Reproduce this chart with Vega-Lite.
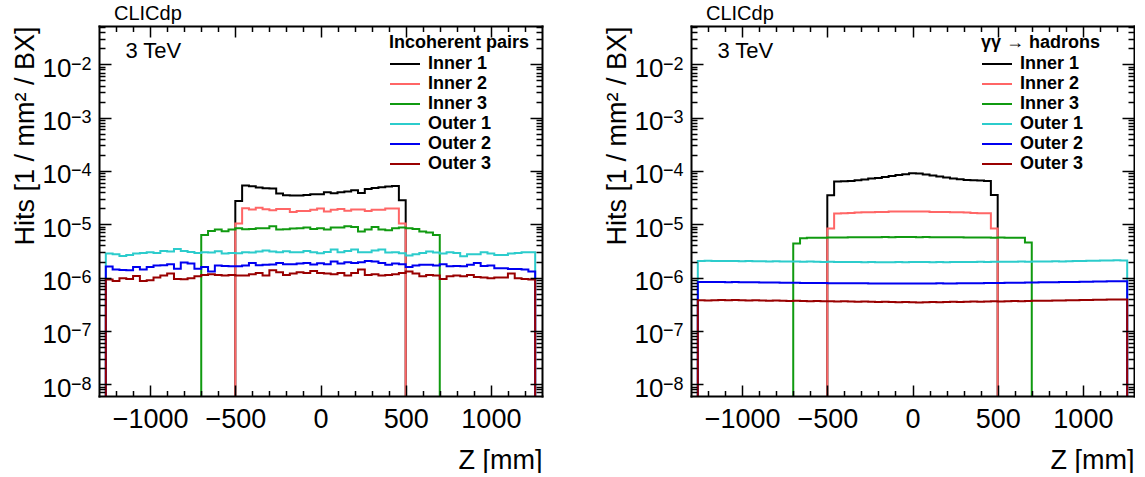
{
"$schema":"https://vega.github.io/schema/vega-lite/v6.json",
"background":"white",
"padding":{"left":10,"top":4,"right":0,"bottom":0},
"config":{"font":"Liberation Sans","view":{"stroke":null},
 "axis":{"labelColor":"black","titleColor":"black","tickColor":"black","domainColor":"black","labelFont":"Liberation Sans","titleFont":"Liberation Sans","grid":false},
 "legend":{"labelFont":"Liberation Sans","titleFont":"Liberation Sans"},
 "title":{"font":"Liberation Sans"}},
"spacing":149,
"bounds":"flush",
"resolve":{"scale":{"color":"independent","x":"independent","y":"independent"},"legend":{"color":"independent"},"axis":{"x":"independent","y":"independent"}},
"hconcat":[
{
"width":443,"height":370,
"title":{"text":"CLICdp","anchor":"start","frame":"group","dx":15,"fontSize":20,"fontWeight":"normal","baseline":"alphabetic","offset":-15,"color":"black"},
"layer":[
{
"data":{"values":[
{"z":-1280,"Inner 1":1e-10,"Inner 2":1e-10,"Inner 3":1e-10,"Outer 1":1e-10,"Outer 2":1e-10,"Outer 3":1e-10},
{"z":-1240,"Inner 1":1e-10,"Inner 2":1e-10,"Inner 3":1e-10,"Outer 1":2.82e-6,"Outer 2":1.61e-6,"Outer 3":9.17e-7},
{"z":-1200,"Inner 1":1e-10,"Inner 2":1e-10,"Inner 3":1e-10,"Outer 1":2.74e-6,"Outer 2":1.41e-6,"Outer 3":8.66e-7},
{"z":-1160,"Inner 1":1e-10,"Inner 2":1e-10,"Inner 3":1e-10,"Outer 1":2.55e-6,"Outer 2":1.39e-6,"Outer 3":9.72e-7},
{"z":-1120,"Inner 1":1e-10,"Inner 2":1e-10,"Inner 3":1e-10,"Outer 1":2.66e-6,"Outer 2":1.37e-6,"Outer 3":9.44e-7},
{"z":-1080,"Inner 1":1e-10,"Inner 2":1e-10,"Inner 3":1e-10,"Outer 1":2.82e-6,"Outer 2":1.58e-6,"Outer 3":1.075e-6},
{"z":-1040,"Inner 1":1e-10,"Inner 2":1e-10,"Inner 3":1e-10,"Outer 1":2.9e-6,"Outer 2":1.41e-6,"Outer 3":8.66e-7},
{"z":-1000,"Inner 1":1e-10,"Inner 2":1e-10,"Inner 3":1e-10,"Outer 1":2.99e-6,"Outer 2":1.58e-6,"Outer 3":8.91e-7},
{"z":-960,"Inner 1":1e-10,"Inner 2":1e-10,"Inner 3":1e-10,"Outer 1":2.9e-6,"Outer 2":1.68e-6,"Outer 3":1e-6},
{"z":-920,"Inner 1":1e-10,"Inner 2":1e-10,"Inner 3":1e-10,"Outer 1":3.16e-6,"Outer 2":1.7e-6,"Outer 3":1.09e-6},
{"z":-880,"Inner 1":1e-10,"Inner 2":1e-10,"Inner 3":1e-10,"Outer 1":3.07e-6,"Outer 2":1.78e-6,"Outer 3":1.189e-6},
{"z":-840,"Inner 1":1e-10,"Inner 2":1e-10,"Inner 3":1e-10,"Outer 1":3.45e-6,"Outer 2":1.47e-6,"Outer 3":9.44e-7},
{"z":-800,"Inner 1":1e-10,"Inner 2":1e-10,"Inner 3":1e-10,"Outer 1":3.16e-6,"Outer 2":1.91e-6,"Outer 3":9.31e-7},
{"z":-760,"Inner 1":1e-10,"Inner 2":1e-10,"Inner 3":1e-10,"Outer 1":3.03e-6,"Outer 2":1.83e-6,"Outer 3":9.72e-7},
{"z":-720,"Inner 1":1e-10,"Inner 2":1e-10,"Inner 3":1e-10,"Outer 1":2.9e-6,"Outer 2":1.47e-6,"Outer 3":1.059e-6},
{"z":-680,"Inner 1":1e-10,"Inner 2":1e-10,"Inner 3":6.31e-6,"Outer 1":2.99e-6,"Outer 2":1.58e-6,"Outer 3":1.122e-6},
{"z":-640,"Inner 1":1e-10,"Inner 2":1e-10,"Inner 3":7.5e-6,"Outer 1":2.94e-6,"Outer 2":1.3e-6,"Outer 3":1.155e-6},
{"z":-600,"Inner 1":1e-10,"Inner 2":1e-10,"Inner 3":7.94e-6,"Outer 1":3.12e-6,"Outer 2":1.68e-6,"Outer 3":1.122e-6},
{"z":-560,"Inner 1":1e-10,"Inner 2":1e-10,"Inner 3":7.39e-6,"Outer 1":2.82e-6,"Outer 2":1.65e-6,"Outer 3":1.09e-6},
{"z":-520,"Inner 1":1e-10,"Inner 2":1e-10,"Inner 3":7.94e-6,"Outer 1":2.9e-6,"Outer 2":1.63e-6,"Outer 3":1.122e-6},
{"z":-480,"Inner 1":2.74e-5,"Inner 2":1.03e-5,"Inner 3":8.41e-6,"Outer 1":2.86e-6,"Outer 2":1.63e-6,"Outer 3":1.09e-6},
{"z":-440,"Inner 1":5.31e-5,"Inner 2":2e-5,"Inner 3":8.06e-6,"Outer 1":2.99e-6,"Outer 2":1.68e-6,"Outer 3":1.09e-6},
{"z":-400,"Inner 1":5.16e-5,"Inner 2":1.88e-5,"Inner 3":8.18e-6,"Outer 1":2.94e-6,"Outer 2":1.88e-6,"Outer 3":1.155e-6},
{"z":-360,"Inner 1":4.87e-5,"Inner 2":2.03e-5,"Inner 3":8.41e-6,"Outer 1":3.07e-6,"Outer 2":1.7e-6,"Outer 3":1.223e-6},
{"z":-320,"Inner 1":4.73e-5,"Inner 2":1.91e-5,"Inner 3":8.41e-6,"Outer 1":3.21e-6,"Outer 2":1.73e-6,"Outer 3":1.09e-6},
{"z":-280,"Inner 1":4.66e-5,"Inner 2":1.83e-5,"Inner 3":9.17e-6,"Outer 1":3.07e-6,"Outer 2":1.75e-6,"Outer 3":1.372e-6},
{"z":-240,"Inner 1":3.76e-5,"Inner 2":1.94e-5,"Inner 3":7.94e-6,"Outer 1":2.99e-6,"Outer 2":1.88e-6,"Outer 3":1.259e-6},
{"z":-200,"Inner 1":3.5e-5,"Inner 2":1.94e-5,"Inner 3":8.06e-6,"Outer 1":3.12e-6,"Outer 2":1.78e-6,"Outer 3":1.122e-6},
{"z":-160,"Inner 1":3.45e-5,"Inner 2":1.7e-5,"Inner 3":8.29e-6,"Outer 1":2.99e-6,"Outer 2":1.78e-6,"Outer 3":1.189e-6},
{"z":-120,"Inner 1":3.45e-5,"Inner 2":1.78e-5,"Inner 3":8.41e-6,"Outer 1":2.99e-6,"Outer 2":1.83e-6,"Outer 3":1.259e-6},
{"z":-80,"Inner 1":3.55e-5,"Inner 2":1.78e-5,"Inner 3":8.66e-6,"Outer 1":3.16e-6,"Outer 2":1.88e-6,"Outer 3":1.223e-6},
{"z":-40,"Inner 1":3.65e-5,"Inner 2":1.86e-5,"Inner 3":8.18e-6,"Outer 1":2.99e-6,"Outer 2":1.75e-6,"Outer 3":1.334e-6},
{"z":0,"Inner 1":3.65e-5,"Inner 2":1.97e-5,"Inner 3":8.41e-6,"Outer 1":2.86e-6,"Outer 2":1.86e-6,"Outer 3":1.223e-6},
{"z":40,"Inner 1":3.98e-5,"Inner 2":1.73e-5,"Inner 3":7.94e-6,"Outer 1":3.03e-6,"Outer 2":1.78e-6,"Outer 3":1.189e-6},
{"z":80,"Inner 1":3.81e-5,"Inner 2":1.86e-5,"Inner 3":8.66e-6,"Outer 1":3.35e-6,"Outer 2":2e-6,"Outer 3":1.155e-6},
{"z":120,"Inner 1":3.98e-5,"Inner 2":1.94e-5,"Inner 3":8.66e-6,"Outer 1":2.99e-6,"Outer 2":1.83e-6,"Outer 3":1.223e-6},
{"z":160,"Inner 1":4.1e-5,"Inner 2":1.8e-5,"Inner 3":9.17e-6,"Outer 1":3.16e-6,"Outer 2":1.94e-6,"Outer 3":1.09e-6},
{"z":200,"Inner 1":4.34e-5,"Inner 2":1.88e-5,"Inner 3":8.91e-6,"Outer 1":3.35e-6,"Outer 2":1.88e-6,"Outer 3":1.223e-6},
{"z":240,"Inner 1":3.87e-5,"Inner 2":1.88e-5,"Inner 3":7.28e-6,"Outer 1":2.99e-6,"Outer 2":1.94e-6,"Outer 3":1.413e-6},
{"z":280,"Inner 1":4.6e-5,"Inner 2":1.78e-5,"Inner 3":7.94e-6,"Outer 1":2.99e-6,"Outer 2":2.05e-6,"Outer 3":1.122e-6},
{"z":320,"Inner 1":4.8e-5,"Inner 2":1.86e-5,"Inner 3":8.91e-6,"Outer 1":3.21e-6,"Outer 2":2e-6,"Outer 3":1.155e-6},
{"z":360,"Inner 1":4.94e-5,"Inner 2":1.86e-5,"Inner 3":7.94e-6,"Outer 1":3.35e-6,"Outer 2":1.88e-6,"Outer 3":1.09e-6},
{"z":400,"Inner 1":5.08e-5,"Inner 2":1.97e-5,"Inner 3":7.71e-6,"Outer 1":2.94e-6,"Outer 2":1.73e-6,"Outer 3":1.122e-6},
{"z":440,"Inner 1":5.23e-5,"Inner 2":1.97e-5,"Inner 3":8.41e-6,"Outer 1":2.99e-6,"Outer 2":1.83e-6,"Outer 3":1.155e-6},
{"z":480,"Inner 1":2.82e-5,"Inner 2":1.03e-5,"Inner 3":8.66e-6,"Outer 1":2.86e-6,"Outer 2":1.78e-6,"Outer 3":1.223e-6},
{"z":520,"Inner 1":1e-10,"Inner 2":1e-10,"Inner 3":8.41e-6,"Outer 1":2.59e-6,"Outer 2":1.58e-6,"Outer 3":1.296e-6},
{"z":560,"Inner 1":1e-10,"Inner 2":1e-10,"Inner 3":8.18e-6,"Outer 1":2.74e-6,"Outer 2":1.68e-6,"Outer 3":1.189e-6},
{"z":600,"Inner 1":1e-10,"Inner 2":1e-10,"Inner 3":7.28e-6,"Outer 1":2.9e-6,"Outer 2":1.73e-6,"Outer 3":1.059e-6},
{"z":640,"Inner 1":1e-10,"Inner 2":1e-10,"Inner 3":6.98e-6,"Outer 1":3.07e-6,"Outer 2":1.73e-6,"Outer 3":1.122e-6},
{"z":680,"Inner 1":1e-10,"Inner 2":1e-10,"Inner 3":6.31e-6,"Outer 1":2.94e-6,"Outer 2":1.68e-6,"Outer 3":1.09e-6},
{"z":720,"Inner 1":1e-10,"Inner 2":1e-10,"Inner 3":1e-10,"Outer 1":2.82e-6,"Outer 2":1.78e-6,"Outer 3":9.44e-7},
{"z":760,"Inner 1":1e-10,"Inner 2":1e-10,"Inner 3":1e-10,"Outer 1":2.99e-6,"Outer 2":1.63e-6,"Outer 3":1.059e-6},
{"z":800,"Inner 1":1e-10,"Inner 2":1e-10,"Inner 3":1e-10,"Outer 1":2.9e-6,"Outer 2":1.65e-6,"Outer 3":1.09e-6},
{"z":840,"Inner 1":1e-10,"Inner 2":1e-10,"Inner 3":1e-10,"Outer 1":2.51e-6,"Outer 2":1.63e-6,"Outer 3":1.059e-6},
{"z":880,"Inner 1":1e-10,"Inner 2":1e-10,"Inner 3":1e-10,"Outer 1":2.74e-6,"Outer 2":1.73e-6,"Outer 3":1.122e-6},
{"z":920,"Inner 1":1e-10,"Inner 2":1e-10,"Inner 3":1e-10,"Outer 1":2.74e-6,"Outer 2":1.88e-6,"Outer 3":1.029e-6},
{"z":960,"Inner 1":1e-10,"Inner 2":1e-10,"Inner 3":1e-10,"Outer 1":2.99e-6,"Outer 2":1.65e-6,"Outer 3":1e-6},
{"z":1000,"Inner 1":1e-10,"Inner 2":1e-10,"Inner 3":1e-10,"Outer 1":2.82e-6,"Outer 2":1.68e-6,"Outer 3":9.72e-7},
{"z":1040,"Inner 1":1e-10,"Inner 2":1e-10,"Inner 3":1e-10,"Outer 1":2.66e-6,"Outer 2":1.5e-6,"Outer 3":1e-6},
{"z":1080,"Inner 1":1e-10,"Inner 2":1e-10,"Inner 3":1e-10,"Outer 1":2.66e-6,"Outer 2":1.5e-6,"Outer 3":1e-6},
{"z":1120,"Inner 1":1e-10,"Inner 2":1e-10,"Inner 3":1e-10,"Outer 1":2.82e-6,"Outer 2":1.45e-6,"Outer 3":1.189e-6},
{"z":1160,"Inner 1":1e-10,"Inner 2":1e-10,"Inner 3":1e-10,"Outer 1":2.9e-6,"Outer 2":1.45e-6,"Outer 3":9.72e-7},
{"z":1200,"Inner 1":1e-10,"Inner 2":1e-10,"Inner 3":1e-10,"Outer 1":2.99e-6,"Outer 2":1.41e-6,"Outer 3":9.44e-7},
{"z":1240,"Inner 1":1e-10,"Inner 2":1e-10,"Inner 3":1e-10,"Outer 1":2.99e-6,"Outer 2":1.3e-6,"Outer 3":9.17e-7},
{"z":1280,"Inner 1":1e-10,"Inner 2":1e-10,"Inner 3":1e-10,"Outer 1":1e-10,"Outer 2":1e-10,"Outer 3":1e-10}
]},
"transform":[{"fold":["Inner 1","Inner 2","Inner 3","Outer 1","Outer 2","Outer 3"],"as":["series","v"]}],
"mark":{"type":"line","interpolate":"step","strokeWidth":2,"clip":true},
"encoding":{
"x":{"field":"z","type":"quantitative","scale":{"domain":[-1300,1300],"nice":false,"zero":false},
 "axis":{"orient":"bottom","values":[-1000,-500,0,500,1000],"format":"d","ticks":false,"tickSize":0,"labelFontSize":27,"labelPadding":31,"labelBaseline":"alphabetic","labelFlush":false,"labelOverlap":false,"domain":true,"domainWidth":2,"domainCap":"square","title":"Z [mm]","titleFontSize":27,"titleFontWeight":"normal","titleAnchor":"end","titleAlign":"right","titleBaseline":"alphabetic","titleX":443,"titleY":72,"zindex":1}},
"y":{"field":"v","type":"quantitative","scale":{"type":"log","domain":[6e-9,0.0523],"nice":false},
 "axis":{"orient":"left","values":[1e-8,1e-7,1e-6,1e-5,1e-4,0.001,0.01],"labelExpr":"'10'","ticks":false,"tickSize":0,"labelFontSize":26,"labelPadding":28,"labelAlign":"right","labelBaseline":"alphabetic","labelOffset":12,"labelFlush":false,"labelOverlap":false,"domain":true,"domainWidth":2,"domainCap":"square","title":"Hits [1 / mm² / BX]","titleFontSize":27,"titleFontWeight":"normal","titleAnchor":"end","titleAlign":"right","titleAngle":-90,"titleBaseline":"alphabetic","titleX":-66,"titleY":0,"zindex":1}},
"color":{"field":"series","type":"nominal","scale":{"domain":["Inner 1","Inner 2","Inner 3","Outer 1","Outer 2","Outer 3"],"range":["#000000","#ff6666","#109a10","#2ccccc","#0000f0","#990000"]},
 "legend":{"title":"Incoherent pairs","orient":"none","legendX":290,"legendY":8,"titleFontSize":18,"titleFontWeight":"bold","titleColor":"black","titlePadding":3,"labelFontSize":18,"labelFontWeight":"bold","labelColor":"black","symbolType":"stroke","symbolSize":900,"symbolStrokeWidth":2,"rowPadding":2,"labelOffset":7,"clipHeight":18}}
}
},
{"data":{"values":[{}]},"mark":{"type":"point","opacity":0},
"encoding":{
"x":{"datum":0,"type":"quantitative","scale":{"domain":[-1300,1300],"nice":false,"zero":false},
 "axis":{"orient":"bottom","values":[-1000,-500,0,500,1000],"labels":false,"domain":false,"title":null,"tickSize":-11,"tickWidth":1.5,"zindex":1}},
"y":{"datum":1e-5,"type":"quantitative","scale":{"type":"log","domain":[6e-9,0.0523],"nice":false},
 "axis":{"orient":"left","values":[1e-8,1e-7,1e-6,1e-5,1e-4,0.001,0.01],"labelExpr":"'\u2212' + round(-log(datum.value)/LN10)","ticks":false,"tickSize":0,"labelFontSize":18,"labelPadding":8,"labelAlign":"right","labelBaseline":"alphabetic","labelOffset":5,"labelFlush":false,"labelOverlap":false,"domain":false,"title":null,"zindex":1}}
}},
{"data":{"values":[{}]},"mark":{"type":"point","opacity":0},
"encoding":{
"x":{"datum":0,"type":"quantitative","scale":{"domain":[-1300,1300],"nice":false,"zero":false},
 "axis":{"orient":"bottom","values":[-1200,-1100,-900,-800,-700,-600,-400,-300,-200,-100,100,200,300,400,600,700,800,900,1100,1200],"labels":false,"domain":false,"title":null,"tickSize":-5.5,"tickWidth":1.5,"zindex":1}},
"y":{"datum":1e-5,"type":"quantitative","scale":{"type":"log","domain":[6e-9,0.0523],"nice":false},
 "axis":{"orient":"left","values":[1e-8,1e-7,1e-6,1e-5,1e-4,0.001,0.01],"labels":false,"domain":false,"title":null,"tickSize":-12,"tickWidth":1.5,"zindex":1}}
}},
{"data":{"values":[{}]},"mark":{"type":"point","opacity":0},
"encoding":{
"x":{"datum":0,"type":"quantitative","scale":{"domain":[-1300,1300],"nice":false,"zero":false},
 "axis":{"orient":"top","values":[-1000,-500,0,500,1000],"labels":false,"domain":true,"domainWidth":2,"domainCap":"square","title":null,"tickSize":-11,"tickWidth":1.5,"zindex":1}},
"y":{"datum":1e-5,"type":"quantitative","scale":{"type":"log","domain":[6e-9,0.0523],"nice":false},
 "axis":{"orient":"left","values":[7e-9,8e-9,9e-9,2e-8,3e-8,4e-8,5e-8,6e-8,7e-8,8e-8,9e-8,2e-7,3e-7,4e-7,5e-7,6e-7,7e-7,8e-7,9e-7,2e-6,3e-6,4e-6,5e-6,6e-6,7e-6,8e-6,9e-6,2e-5,3e-5,4e-5,5e-5,6e-5,7e-5,8e-5,9e-5,2e-4,3e-4,4e-4,5e-4,6e-4,7e-4,8e-4,9e-4,0.002,0.003,0.004,0.005,0.006,0.007,0.008,0.009,0.02,0.03,0.04,0.05],"labels":false,"domain":false,"title":null,"tickSize":-6,"tickWidth":1.5,"zindex":1}}
}},
{"data":{"values":[{}]},"mark":{"type":"point","opacity":0},
"encoding":{
"x":{"datum":0,"type":"quantitative","scale":{"domain":[-1300,1300],"nice":false,"zero":false},
 "axis":{"orient":"top","values":[-1200,-1100,-900,-800,-700,-600,-400,-300,-200,-100,100,200,300,400,600,700,800,900,1100,1200],"labels":false,"domain":false,"title":null,"tickSize":-5.5,"tickWidth":1.5,"zindex":1}},
"y":{"datum":1e-5,"type":"quantitative","scale":{"type":"log","domain":[6e-9,0.0523],"nice":false},
 "axis":{"orient":"right","values":[1e-8,1e-7,1e-6,1e-5,1e-4,0.001,0.01],"labels":false,"domain":true,"domainWidth":2,"domainCap":"square","title":null,"tickSize":-12,"tickWidth":1.5,"zindex":1}}
}},
{"data":{"values":[{}]},"mark":{"type":"point","opacity":0},
"encoding":{
"x":{"datum":0,"type":"quantitative","scale":{"domain":[-1300,1300],"nice":false,"zero":false},"axis":null},
"y":{"datum":1e-5,"type":"quantitative","scale":{"type":"log","domain":[6e-9,0.0523],"nice":false},
 "axis":{"orient":"right","values":[7e-9,8e-9,9e-9,2e-8,3e-8,4e-8,5e-8,6e-8,7e-8,8e-8,9e-8,2e-7,3e-7,4e-7,5e-7,6e-7,7e-7,8e-7,9e-7,2e-6,3e-6,4e-6,5e-6,6e-6,7e-6,8e-6,9e-6,2e-5,3e-5,4e-5,5e-5,6e-5,7e-5,8e-5,9e-5,2e-4,3e-4,4e-4,5e-4,6e-4,7e-4,8e-4,9e-4,0.002,0.003,0.004,0.005,0.006,0.007,0.008,0.009,0.02,0.03,0.04,0.05],"labels":false,"domain":false,"title":null,"tickSize":-6,"tickWidth":1.5,"zindex":1}}
}},
{"data":{"values":[{}]},"mark":{"type":"text","text":"3 TeV","fontSize":22,"align":"left","baseline":"alphabetic","color":"black","font":"Liberation Sans"},
"encoding":{
"x":{"datum":-1145,"type":"quantitative","scale":{"domain":[-1300,1300],"nice":false,"zero":false},"axis":null},
"y":{"datum":0.013,"type":"quantitative","scale":{"type":"log","domain":[6e-9,0.0523],"nice":false},"axis":null}
}}
],
"resolve":{"axis":{"x":"independent","y":"independent"}}
},
{
"width":443,"height":370,
"title":{"text":"CLICdp","anchor":"start","frame":"group","dx":15,"fontSize":20,"fontWeight":"normal","baseline":"alphabetic","offset":-15,"color":"black"},
"layer":[
{
"data":{"values":[
{"z":-1280,"Inner 1":1e-10,"Inner 2":1e-10,"Inner 3":1e-10,"Outer 1":1e-10,"Outer 2":1e-10,"Outer 3":1e-10},
{"z":-1240,"Inner 1":1e-10,"Inner 2":1e-10,"Inner 3":1e-10,"Outer 1":2.05e-6,"Outer 2":8.29e-7,"Outer 3":3.76e-7},
{"z":-1200,"Inner 1":1e-10,"Inner 2":1e-10,"Inner 3":1e-10,"Outer 1":2.06e-6,"Outer 2":8.25e-7,"Outer 3":3.72e-7},
{"z":-1160,"Inner 1":1e-10,"Inner 2":1e-10,"Inner 3":1e-10,"Outer 1":2.05e-6,"Outer 2":8.29e-7,"Outer 3":3.74e-7},
{"z":-1120,"Inner 1":1e-10,"Inner 2":1e-10,"Inner 3":1e-10,"Outer 1":2.04e-6,"Outer 2":8.22e-7,"Outer 3":3.78e-7},
{"z":-1080,"Inner 1":1e-10,"Inner 2":1e-10,"Inner 3":1e-10,"Outer 1":2.05e-6,"Outer 2":8.2e-7,"Outer 3":3.74e-7},
{"z":-1040,"Inner 1":1e-10,"Inner 2":1e-10,"Inner 3":1e-10,"Outer 1":2.04e-6,"Outer 2":8.22e-7,"Outer 3":3.8e-7},
{"z":-1000,"Inner 1":1e-10,"Inner 2":1e-10,"Inner 3":1e-10,"Outer 1":2.03e-6,"Outer 2":8.18e-7,"Outer 3":3.76e-7},
{"z":-960,"Inner 1":1e-10,"Inner 2":1e-10,"Inner 3":1e-10,"Outer 1":2.04e-6,"Outer 2":8.15e-7,"Outer 3":3.72e-7},
{"z":-920,"Inner 1":1e-10,"Inner 2":1e-10,"Inner 3":1e-10,"Outer 1":2.03e-6,"Outer 2":8.18e-7,"Outer 3":3.74e-7},
{"z":-880,"Inner 1":1e-10,"Inner 2":1e-10,"Inner 3":1e-10,"Outer 1":2.02e-6,"Outer 2":8.1e-7,"Outer 3":3.7e-7},
{"z":-840,"Inner 1":1e-10,"Inner 2":1e-10,"Inner 3":1e-10,"Outer 1":2.01e-6,"Outer 2":8.06e-7,"Outer 3":3.68e-7},
{"z":-800,"Inner 1":1e-10,"Inner 2":1e-10,"Inner 3":1e-10,"Outer 1":2.02e-6,"Outer 2":8.1e-7,"Outer 3":3.7e-7},
{"z":-760,"Inner 1":1e-10,"Inner 2":1e-10,"Inner 3":1e-10,"Outer 1":2.01e-6,"Outer 2":8.02e-7,"Outer 3":3.66e-7},
{"z":-720,"Inner 1":1e-10,"Inner 2":1e-10,"Inner 3":1e-10,"Outer 1":2e-6,"Outer 2":8e-7,"Outer 3":3.64e-7},
{"z":-680,"Inner 1":1e-10,"Inner 2":1e-10,"Inner 3":4.33e-6,"Outer 1":1.99e-6,"Outer 2":7.96e-7,"Outer 3":3.66e-7},
{"z":-640,"Inner 1":1e-10,"Inner 2":1e-10,"Inner 3":5.48e-6,"Outer 1":1.98e-6,"Outer 2":7.94e-7,"Outer 3":3.62e-7},
{"z":-600,"Inner 1":1e-10,"Inner 2":1e-10,"Inner 3":5.55e-6,"Outer 1":1.99e-6,"Outer 2":7.9e-7,"Outer 3":3.6e-7},
{"z":-560,"Inner 1":1e-10,"Inner 2":1e-10,"Inner 3":5.55e-6,"Outer 1":1.97e-6,"Outer 2":7.92e-7,"Outer 3":3.62e-7},
{"z":-520,"Inner 1":1e-10,"Inner 2":1e-10,"Inner 3":5.58e-6,"Outer 1":1.96e-6,"Outer 2":7.88e-7,"Outer 3":3.58e-7},
{"z":-480,"Inner 1":3.5e-5,"Inner 2":8.3e-6,"Inner 3":5.62e-6,"Outer 1":1.97e-6,"Outer 2":7.86e-7,"Outer 3":3.6e-7},
{"z":-440,"Inner 1":6.31e-5,"Inner 2":1.585e-5,"Inner 3":5.62e-6,"Outer 1":1.96e-6,"Outer 2":7.83e-7,"Outer 3":3.56e-7},
{"z":-400,"Inner 1":6.4e-5,"Inner 2":1.61e-5,"Inner 3":5.65e-6,"Outer 1":1.95e-6,"Outer 2":7.85e-7,"Outer 3":3.58e-7},
{"z":-360,"Inner 1":6.49e-5,"Inner 2":1.63e-5,"Inner 3":5.68e-6,"Outer 1":1.96e-6,"Outer 2":7.8e-7,"Outer 3":3.55e-7},
{"z":-320,"Inner 1":6.68e-5,"Inner 2":1.66e-5,"Inner 3":5.68e-6,"Outer 1":1.95e-6,"Outer 2":7.78e-7,"Outer 3":3.52e-7},
{"z":-280,"Inner 1":6.88e-5,"Inner 2":1.68e-5,"Inner 3":5.7e-6,"Outer 1":1.94e-6,"Outer 2":7.8e-7,"Outer 3":3.54e-7},
{"z":-240,"Inner 1":7.18e-5,"Inner 2":1.68e-5,"Inner 3":5.7e-6,"Outer 1":1.95e-6,"Outer 2":7.76e-7,"Outer 3":3.5e-7},
{"z":-200,"Inner 1":7.39e-5,"Inner 2":1.7e-5,"Inner 3":5.72e-6,"Outer 1":1.94e-6,"Outer 2":7.74e-7,"Outer 3":3.48e-7},
{"z":-160,"Inner 1":7.72e-5,"Inner 2":1.7e-5,"Inner 3":5.75e-6,"Outer 1":1.93e-6,"Outer 2":7.72e-7,"Outer 3":3.5e-7},
{"z":-120,"Inner 1":8.06e-5,"Inner 2":1.73e-5,"Inner 3":5.72e-6,"Outer 1":1.94e-6,"Outer 2":7.75e-7,"Outer 3":3.46e-7},
{"z":-80,"Inner 1":8.41e-5,"Inner 2":1.73e-5,"Inner 3":5.75e-6,"Outer 1":1.95e-6,"Outer 2":7.72e-7,"Outer 3":3.44e-7},
{"z":-40,"Inner 1":8.66e-5,"Inner 2":1.73e-5,"Inner 3":5.75e-6,"Outer 1":1.94e-6,"Outer 2":7.7e-7,"Outer 3":3.47e-7},
{"z":0,"Inner 1":9.04e-5,"Inner 2":1.73e-5,"Inner 3":5.75e-6,"Outer 1":1.95e-6,"Outer 2":7.72e-7,"Outer 3":3.44e-7},
{"z":40,"Inner 1":8.91e-5,"Inner 2":1.73e-5,"Inner 3":5.72e-6,"Outer 1":1.96e-6,"Outer 2":7.74e-7,"Outer 3":3.4e-7},
{"z":80,"Inner 1":8.54e-5,"Inner 2":1.73e-5,"Inner 3":5.75e-6,"Outer 1":1.95e-6,"Outer 2":7.72e-7,"Outer 3":3.44e-7},
{"z":120,"Inner 1":8.18e-5,"Inner 2":1.7e-5,"Inner 3":5.72e-6,"Outer 1":1.94e-6,"Outer 2":7.75e-7,"Outer 3":3.47e-7},
{"z":160,"Inner 1":7.83e-5,"Inner 2":1.7e-5,"Inner 3":5.7e-6,"Outer 1":1.95e-6,"Outer 2":7.78e-7,"Outer 3":3.44e-7},
{"z":200,"Inner 1":7.5e-5,"Inner 2":1.7e-5,"Inner 3":5.72e-6,"Outer 1":1.94e-6,"Outer 2":7.72e-7,"Outer 3":3.48e-7},
{"z":240,"Inner 1":7.18e-5,"Inner 2":1.68e-5,"Inner 3":5.68e-6,"Outer 1":1.95e-6,"Outer 2":7.76e-7,"Outer 3":3.5e-7},
{"z":280,"Inner 1":6.98e-5,"Inner 2":1.68e-5,"Inner 3":5.68e-6,"Outer 1":1.96e-6,"Outer 2":7.8e-7,"Outer 3":3.48e-7},
{"z":320,"Inner 1":6.78e-5,"Inner 2":1.66e-5,"Inner 3":5.65e-6,"Outer 1":1.95e-6,"Outer 2":7.82e-7,"Outer 3":3.52e-7},
{"z":360,"Inner 1":6.68e-5,"Inner 2":1.63e-5,"Inner 3":5.65e-6,"Outer 1":1.96e-6,"Outer 2":7.85e-7,"Outer 3":3.54e-7},
{"z":400,"Inner 1":6.59e-5,"Inner 2":1.61e-5,"Inner 3":5.62e-6,"Outer 1":1.97e-6,"Outer 2":7.83e-7,"Outer 3":3.52e-7},
{"z":440,"Inner 1":6.49e-5,"Inner 2":1.6e-5,"Inner 3":5.62e-6,"Outer 1":1.96e-6,"Outer 2":7.88e-7,"Outer 3":3.56e-7},
{"z":480,"Inner 1":3.55e-5,"Inner 2":8.3e-6,"Inner 3":5.6e-6,"Outer 1":1.97e-6,"Outer 2":7.9e-7,"Outer 3":3.58e-7},
{"z":520,"Inner 1":1e-10,"Inner 2":1e-10,"Inner 3":5.62e-6,"Outer 1":1.98e-6,"Outer 2":7.94e-7,"Outer 3":3.56e-7},
{"z":560,"Inner 1":1e-10,"Inner 2":1e-10,"Inner 3":5.58e-6,"Outer 1":1.97e-6,"Outer 2":7.96e-7,"Outer 3":3.6e-7},
{"z":600,"Inner 1":1e-10,"Inner 2":1e-10,"Inner 3":5.55e-6,"Outer 1":1.98e-6,"Outer 2":8e-7,"Outer 3":3.62e-7},
{"z":640,"Inner 1":1e-10,"Inner 2":1e-10,"Inner 3":5.55e-6,"Outer 1":1.99e-6,"Outer 2":8.02e-7,"Outer 3":3.6e-7},
{"z":680,"Inner 1":1e-10,"Inner 2":1e-10,"Inner 3":4.54e-6,"Outer 1":1.98e-6,"Outer 2":8.06e-7,"Outer 3":3.64e-7},
{"z":720,"Inner 1":1e-10,"Inner 2":1e-10,"Inner 3":1e-10,"Outer 1":2e-6,"Outer 2":8.1e-7,"Outer 3":3.66e-7},
{"z":760,"Inner 1":1e-10,"Inner 2":1e-10,"Inner 3":1e-10,"Outer 1":2.01e-6,"Outer 2":8.12e-7,"Outer 3":3.68e-7},
{"z":800,"Inner 1":1e-10,"Inner 2":1e-10,"Inner 3":1e-10,"Outer 1":2e-6,"Outer 2":8.15e-7,"Outer 3":3.66e-7},
{"z":840,"Inner 1":1e-10,"Inner 2":1e-10,"Inner 3":1e-10,"Outer 1":2.02e-6,"Outer 2":8.18e-7,"Outer 3":3.7e-7},
{"z":880,"Inner 1":1e-10,"Inner 2":1e-10,"Inner 3":1e-10,"Outer 1":2.01e-6,"Outer 2":8.22e-7,"Outer 3":3.72e-7},
{"z":920,"Inner 1":1e-10,"Inner 2":1e-10,"Inner 3":1e-10,"Outer 1":2.03e-6,"Outer 2":8.25e-7,"Outer 3":3.74e-7},
{"z":960,"Inner 1":1e-10,"Inner 2":1e-10,"Inner 3":1e-10,"Outer 1":2.04e-6,"Outer 2":8.29e-7,"Outer 3":3.76e-7},
{"z":1000,"Inner 1":1e-10,"Inner 2":1e-10,"Inner 3":1e-10,"Outer 1":2.05e-6,"Outer 2":8.32e-7,"Outer 3":3.78e-7},
{"z":1040,"Inner 1":1e-10,"Inner 2":1e-10,"Inner 3":1e-10,"Outer 1":2.06e-6,"Outer 2":8.36e-7,"Outer 3":3.8e-7},
{"z":1080,"Inner 1":1e-10,"Inner 2":1e-10,"Inner 3":1e-10,"Outer 1":2.07e-6,"Outer 2":8.4e-7,"Outer 3":3.82e-7},
{"z":1120,"Inner 1":1e-10,"Inner 2":1e-10,"Inner 3":1e-10,"Outer 1":2.08e-6,"Outer 2":8.44e-7,"Outer 3":3.84e-7},
{"z":1160,"Inner 1":1e-10,"Inner 2":1e-10,"Inner 3":1e-10,"Outer 1":2.09e-6,"Outer 2":8.48e-7,"Outer 3":3.86e-7},
{"z":1200,"Inner 1":1e-10,"Inner 2":1e-10,"Inner 3":1e-10,"Outer 1":2.1e-6,"Outer 2":8.53e-7,"Outer 3":3.88e-7},
{"z":1240,"Inner 1":1e-10,"Inner 2":1e-10,"Inner 3":1e-10,"Outer 1":2.08e-6,"Outer 2":8.5e-7,"Outer 3":3.87e-7},
{"z":1280,"Inner 1":1e-10,"Inner 2":1e-10,"Inner 3":1e-10,"Outer 1":1e-10,"Outer 2":1e-10,"Outer 3":1e-10}
]},
"transform":[{"fold":["Inner 1","Inner 2","Inner 3","Outer 1","Outer 2","Outer 3"],"as":["series","v"]}],
"mark":{"type":"line","interpolate":"step","strokeWidth":2,"clip":true},
"encoding":{
"x":{"field":"z","type":"quantitative","scale":{"domain":[-1300,1300],"nice":false,"zero":false},
 "axis":{"orient":"bottom","values":[-1000,-500,0,500,1000],"format":"d","ticks":false,"tickSize":0,"labelFontSize":27,"labelPadding":31,"labelBaseline":"alphabetic","labelFlush":false,"labelOverlap":false,"domain":true,"domainWidth":2,"domainCap":"square","title":"Z [mm]","titleFontSize":27,"titleFontWeight":"normal","titleAnchor":"end","titleAlign":"right","titleBaseline":"alphabetic","titleX":443,"titleY":72,"zindex":1}},
"y":{"field":"v","type":"quantitative","scale":{"type":"log","domain":[6e-9,0.0523],"nice":false},
 "axis":{"orient":"left","values":[1e-8,1e-7,1e-6,1e-5,1e-4,0.001,0.01],"labelExpr":"'10'","ticks":false,"tickSize":0,"labelFontSize":26,"labelPadding":28,"labelAlign":"right","labelBaseline":"alphabetic","labelOffset":12,"labelFlush":false,"labelOverlap":false,"domain":true,"domainWidth":2,"domainCap":"square","title":"Hits [1 / mm² / BX]","titleFontSize":27,"titleFontWeight":"normal","titleAnchor":"end","titleAlign":"right","titleAngle":-90,"titleBaseline":"alphabetic","titleX":-66,"titleY":0,"zindex":1}},
"color":{"field":"series","type":"nominal","scale":{"domain":["Inner 1","Inner 2","Inner 3","Outer 1","Outer 2","Outer 3"],"range":["#000000","#ff6666","#109a10","#2ccccc","#0000f0","#990000"]},
 "legend":{"title":"γγ → hadrons","orient":"none","legendX":290,"legendY":8,"titleFontSize":18,"titleFontWeight":"bold","titleColor":"black","titlePadding":3,"labelFontSize":18,"labelFontWeight":"bold","labelColor":"black","symbolType":"stroke","symbolSize":900,"symbolStrokeWidth":2,"rowPadding":2,"labelOffset":7,"clipHeight":18}}
}
},
{"data":{"values":[{}]},"mark":{"type":"point","opacity":0},
"encoding":{
"x":{"datum":0,"type":"quantitative","scale":{"domain":[-1300,1300],"nice":false,"zero":false},
 "axis":{"orient":"bottom","values":[-1000,-500,0,500,1000],"labels":false,"domain":false,"title":null,"tickSize":-11,"tickWidth":1.5,"zindex":1}},
"y":{"datum":1e-5,"type":"quantitative","scale":{"type":"log","domain":[6e-9,0.0523],"nice":false},
 "axis":{"orient":"left","values":[1e-8,1e-7,1e-6,1e-5,1e-4,0.001,0.01],"labelExpr":"'\u2212' + round(-log(datum.value)/LN10)","ticks":false,"tickSize":0,"labelFontSize":18,"labelPadding":8,"labelAlign":"right","labelBaseline":"alphabetic","labelOffset":5,"labelFlush":false,"labelOverlap":false,"domain":false,"title":null,"zindex":1}}
}},
{"data":{"values":[{}]},"mark":{"type":"point","opacity":0},
"encoding":{
"x":{"datum":0,"type":"quantitative","scale":{"domain":[-1300,1300],"nice":false,"zero":false},
 "axis":{"orient":"bottom","values":[-1200,-1100,-900,-800,-700,-600,-400,-300,-200,-100,100,200,300,400,600,700,800,900,1100,1200],"labels":false,"domain":false,"title":null,"tickSize":-5.5,"tickWidth":1.5,"zindex":1}},
"y":{"datum":1e-5,"type":"quantitative","scale":{"type":"log","domain":[6e-9,0.0523],"nice":false},
 "axis":{"orient":"left","values":[1e-8,1e-7,1e-6,1e-5,1e-4,0.001,0.01],"labels":false,"domain":false,"title":null,"tickSize":-12,"tickWidth":1.5,"zindex":1}}
}},
{"data":{"values":[{}]},"mark":{"type":"point","opacity":0},
"encoding":{
"x":{"datum":0,"type":"quantitative","scale":{"domain":[-1300,1300],"nice":false,"zero":false},
 "axis":{"orient":"top","values":[-1000,-500,0,500,1000],"labels":false,"domain":true,"domainWidth":2,"domainCap":"square","title":null,"tickSize":-11,"tickWidth":1.5,"zindex":1}},
"y":{"datum":1e-5,"type":"quantitative","scale":{"type":"log","domain":[6e-9,0.0523],"nice":false},
 "axis":{"orient":"left","values":[7e-9,8e-9,9e-9,2e-8,3e-8,4e-8,5e-8,6e-8,7e-8,8e-8,9e-8,2e-7,3e-7,4e-7,5e-7,6e-7,7e-7,8e-7,9e-7,2e-6,3e-6,4e-6,5e-6,6e-6,7e-6,8e-6,9e-6,2e-5,3e-5,4e-5,5e-5,6e-5,7e-5,8e-5,9e-5,2e-4,3e-4,4e-4,5e-4,6e-4,7e-4,8e-4,9e-4,0.002,0.003,0.004,0.005,0.006,0.007,0.008,0.009,0.02,0.03,0.04,0.05],"labels":false,"domain":false,"title":null,"tickSize":-6,"tickWidth":1.5,"zindex":1}}
}},
{"data":{"values":[{}]},"mark":{"type":"point","opacity":0},
"encoding":{
"x":{"datum":0,"type":"quantitative","scale":{"domain":[-1300,1300],"nice":false,"zero":false},
 "axis":{"orient":"top","values":[-1200,-1100,-900,-800,-700,-600,-400,-300,-200,-100,100,200,300,400,600,700,800,900,1100,1200],"labels":false,"domain":false,"title":null,"tickSize":-5.5,"tickWidth":1.5,"zindex":1}},
"y":{"datum":1e-5,"type":"quantitative","scale":{"type":"log","domain":[6e-9,0.0523],"nice":false},
 "axis":{"orient":"right","values":[1e-8,1e-7,1e-6,1e-5,1e-4,0.001,0.01],"labels":false,"domain":true,"domainWidth":2,"domainCap":"square","title":null,"tickSize":-12,"tickWidth":1.5,"zindex":1}}
}},
{"data":{"values":[{}]},"mark":{"type":"point","opacity":0},
"encoding":{
"x":{"datum":0,"type":"quantitative","scale":{"domain":[-1300,1300],"nice":false,"zero":false},"axis":null},
"y":{"datum":1e-5,"type":"quantitative","scale":{"type":"log","domain":[6e-9,0.0523],"nice":false},
 "axis":{"orient":"right","values":[7e-9,8e-9,9e-9,2e-8,3e-8,4e-8,5e-8,6e-8,7e-8,8e-8,9e-8,2e-7,3e-7,4e-7,5e-7,6e-7,7e-7,8e-7,9e-7,2e-6,3e-6,4e-6,5e-6,6e-6,7e-6,8e-6,9e-6,2e-5,3e-5,4e-5,5e-5,6e-5,7e-5,8e-5,9e-5,2e-4,3e-4,4e-4,5e-4,6e-4,7e-4,8e-4,9e-4,0.002,0.003,0.004,0.005,0.006,0.007,0.008,0.009,0.02,0.03,0.04,0.05],"labels":false,"domain":false,"title":null,"tickSize":-6,"tickWidth":1.5,"zindex":1}}
}},
{"data":{"values":[{}]},"mark":{"type":"text","text":"3 TeV","fontSize":22,"align":"left","baseline":"alphabetic","color":"black","font":"Liberation Sans"},
"encoding":{
"x":{"datum":-1145,"type":"quantitative","scale":{"domain":[-1300,1300],"nice":false,"zero":false},"axis":null},
"y":{"datum":0.013,"type":"quantitative","scale":{"type":"log","domain":[6e-9,0.0523],"nice":false},"axis":null}
}}
],
"resolve":{"axis":{"x":"independent","y":"independent"}}
}
]
}
